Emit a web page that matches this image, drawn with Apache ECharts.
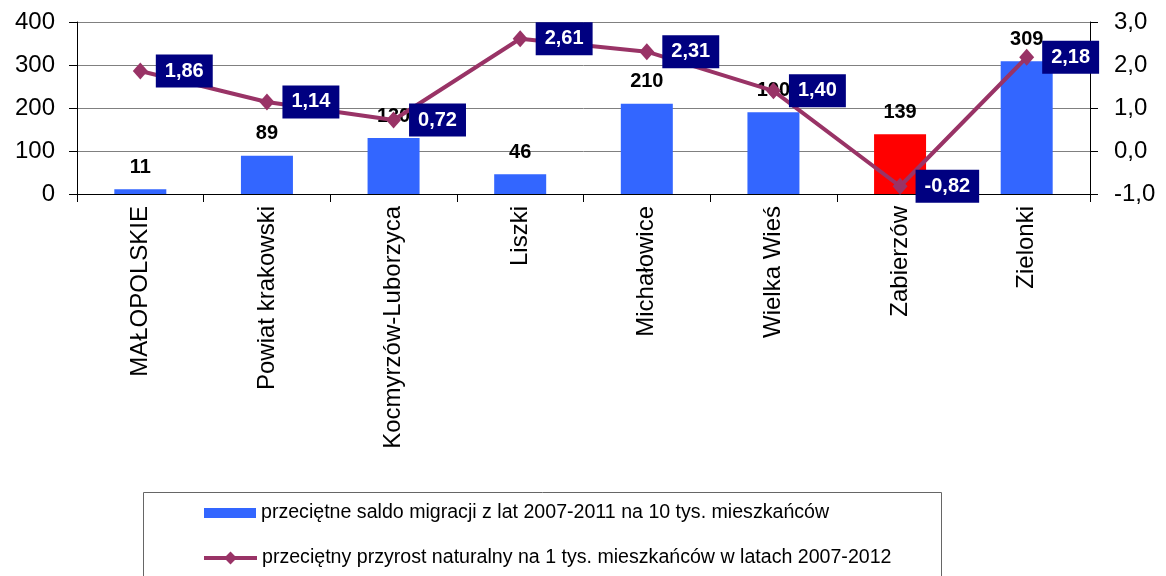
<!DOCTYPE html>
<html>
<head>
<meta charset="utf-8"/>
<title>saldo migracji</title>
<script src="https://cdn.jsdelivr.net/npm/echarts@6/dist/echarts.min.js"></script>
<style>
	body { margin: 0; padding: 0; background: #fff; }
	#main { width: 1166px; height: 576px; }
</style>
</head>
<body>
<div id="main"></div>
<script type="text/javascript">
	// dane
	var categories = ['MAŁOPOLSKIE', 'Powiat krakowski', 'Kocmyrzów-Luborzyca', 'Liszki', 'Michałowice', 'Wielka Wieś', 'Zabierzów', 'Zielonki'];
	var migracja = [11, 89, 130, 46, 210, 190, 139, 309];
	var przyrost = [1.86, 1.14, 0.72, 2.61, 2.31, 1.40, -0.82, 2.18];
	var leftTicks = [0, 400, 100];
	var rightTicks = [-1, 3, 1];
	var seriesNames = [
		'przeciętne saldo migracji z lat 2007-2011 na 10 tys. mieszkańców',
		'przeciętny przyrost naturalny na 1 tys. mieszkańców w latach 2007-2012'
	];

	var font = '"Liberation Sans", Arial, sans-serif';
	function comma(v, d) {
		return v.toFixed(d).replace('.', ',');
	}

	var legendText = { fontSize: 19.6, color: '#000', fontFamily: font };

	var myChart = echarts.init(document.getElementById('main'));
	var option = {
		animation: false,
		textStyle: { fontFamily: font },
		grid: {
			left: 77,
			right: 76,
			top: 22,
			bottom: 382
		},
		// ramka legendy
		graphic: [{
			type: 'rect',
			left: 143,
			top: 492,
			shape: { width: 798, height: 120 },
			style: { fill: '#fff', stroke: '#666', lineWidth: 1 },
			z: 0
		}],
		legend: [
			{
				left: 204,
				top: 503,
				padding: 0,
				itemWidth: 52,
				itemHeight: 10,
				itemGap: 4,
				icon: 'rect',
				textStyle: legendText,
				data: [{ name: seriesNames[0], itemStyle: { color: '#3366ff' } }]
			},
			{
				left: 202,
				top: 548,
				padding: 0,
				itemWidth: 53,
				itemHeight: 16,
				itemGap: 3,
				lineStyle: { width: 4 },
				textStyle: legendText,
				data: [seriesNames[1]]
			}
		],
		xAxis: [{
			type: 'category',
			data: categories,
			boundaryGap: true,
			axisLine: { lineStyle: { color: '#000', width: 1 } },
			axisTick: { show: true, length: 8, lineStyle: { color: '#000' } },
			axisLabel: {
				rotate: 90,
				interval: 0,
				margin: 12,
				color: '#000',
				fontSize: 24,
				fontFamily: font
			}
		}],
		yAxis: [
			{
				type: 'value',
				min: leftTicks[0],
				max: leftTicks[1],
				interval: leftTicks[2],
				axisLine: { show: true, lineStyle: { color: '#000' } },
				axisTick: { show: true, length: 8, lineStyle: { color: '#000' } },
				splitLine: { lineStyle: { color: '#808080' } },
				axisLabel: { color: '#000', fontSize: 24, margin: 22, fontFamily: font }
			},
			{
				type: 'value',
				min: rightTicks[0],
				max: rightTicks[1],
				interval: rightTicks[2],
				axisLine: { show: true, lineStyle: { color: '#000' } },
				axisTick: { show: true, length: 8, lineStyle: { color: '#000' } },
				splitLine: { show: false },
				axisLabel: {
					color: '#000', fontSize: 24, margin: 24, fontFamily: font,
					formatter: function (v) { return comma(v, 1); }
				}
			}
		],
		series: [
			{
				name: seriesNames[0],
				type: 'bar',
				barWidth: 52,
				itemStyle: {
					color: function (p) {
						return p.name === 'Zabierzów' ? '#ff0000' : '#3366ff';
					}
				},
				label: {
					show: true,
					position: 'top',
					distance: 12,
					color: '#000',
					fontWeight: 'bold',
					fontSize: 20,
					fontFamily: font
				},
				data: migracja
			},
			{
				name: seriesNames[1],
				type: 'line',
				yAxisIndex: 1,
				symbol: 'diamond',
				symbolSize: [15, 17],
				lineStyle: { color: '#993366', width: 4 },
				itemStyle: { color: '#993366' },
				label: {
					show: true,
					position: 'right',
					distance: 8,
					backgroundColor: '#000080',
					color: '#fff',
					fontWeight: 'bold',
					fontSize: 20,
					lineHeight: 20,
					padding: [7, 9, 6, 9],
					fontFamily: font,
					formatter: function (p) { return comma(p.value, 2); }
				},
				z: 5,
				data: przyrost
			}
		]
	};
	myChart.setOption(option);
</script>
</body>
</html>
